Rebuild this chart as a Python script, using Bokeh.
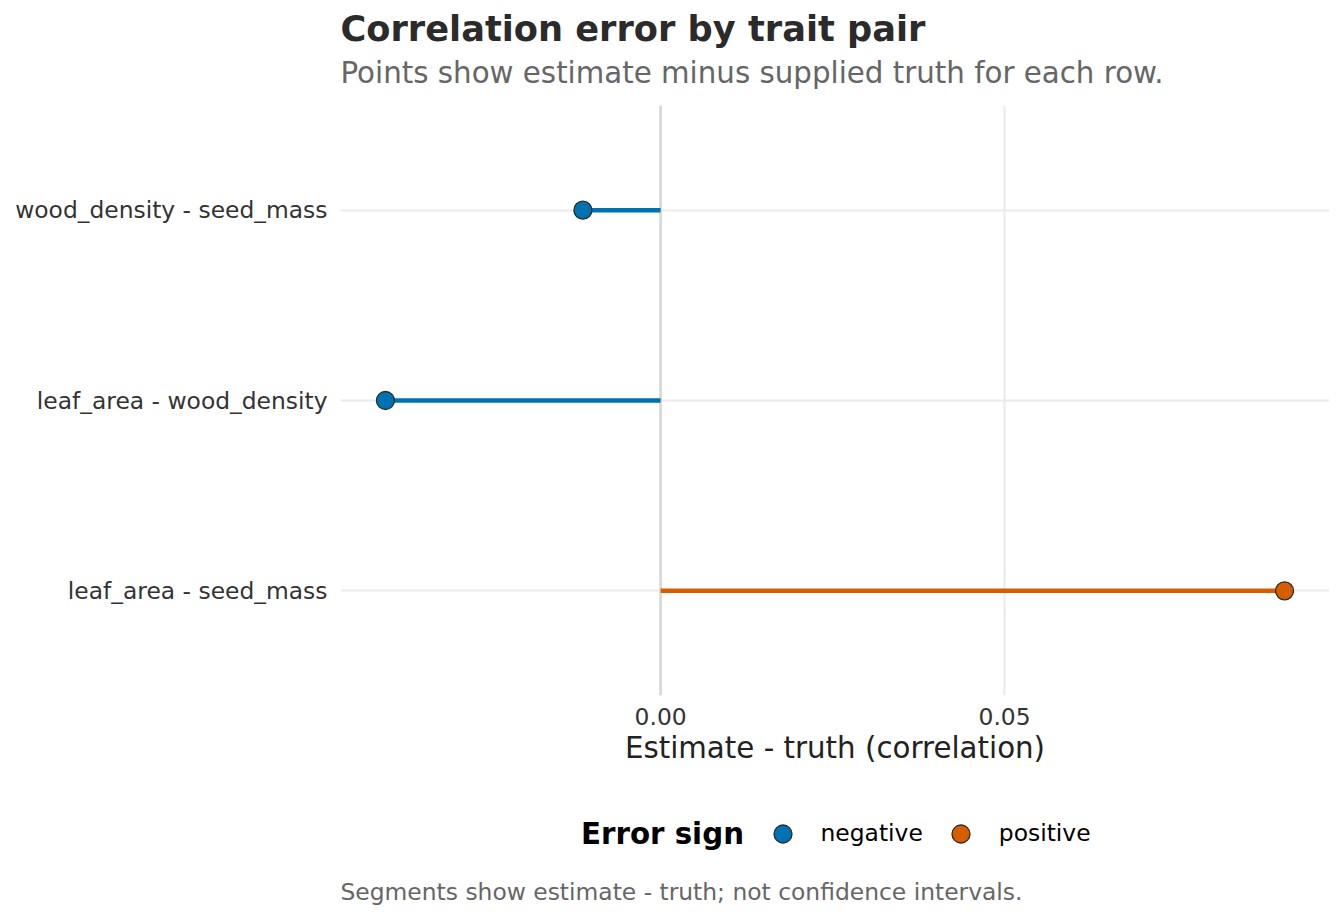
from bokeh.plotting import figure
from bokeh.layouts import column
from bokeh.models import (ColumnDataSource, FactorRange, Range1d, FixedTicker,
                          NumeralTickFormatter, Span, Label, Legend, LegendItem)
from bokeh.embed import file_html
from bokeh.resources import INLINE

# Trait pairs and the estimate-minus-truth error of their correlation
pairs = ["leaf_area - seed_mass", "leaf_area - wood_density", "wood_density - seed_mass"]
error = [0.0907, -0.0400, -0.0113]
x_ticks = [0.00, 0.05]
sign_labels = ["negative", "positive"]
sign_colors = {"negative": "#0072B2", "positive": "#D55E00"}

FONT = "DejaVu Sans"
SMALL = "23.4px"
MEDIUM = "29.3px"
POINT = dict(size=18, line_color="#2b2b2b", line_width=1.3)

signs = ["positive" if e > 0 else "negative" for e in error]
lo, hi = min(error), max(error)
pad = 0.05 * (hi - lo)


def text_strip(height):
    """A plain figure with no axes, used to hold titles, legend and caption."""
    f = figure(width=1344, height=height, x_range=Range1d(0, 1), y_range=Range1d(0, 1),
               output_backend="svg", toolbar_location=None,
               x_axis_location=None, y_axis_location=None,
               min_border=0, min_border_left=0, min_border_right=0,
               min_border_top=0, min_border_bottom=0)
    f.outline_line_color = None
    f.grid.visible = False
    f.background_fill_color = "white"
    f.border_fill_color = "white"
    return f


def add_text(f, x, y, text, size, color, style="normal"):
    f.add_layout(Label(x=x, y=y, x_units="screen", y_units="screen", text=text,
                       text_font=FONT, text_font_size=size, text_font_style=style,
                       text_color=color, text_align="left", text_baseline="middle"))


# ---- header ----
head = text_strip(105)
add_text(head, 0, 77, "Correlation error by trait pair", "35.2px", "#2b2b2b", "bold")
add_text(head, 0, 32.4, "Points show estimate minus supplied truth for each row.",
         MEDIUM, "#666666")

# ---- main lollipop panel ----
p = figure(
    width=1344, height=685,
    y_range=FactorRange(factors=pairs, range_padding=0.1 / 3),
    x_range=Range1d(lo - pad, hi + pad),
    output_backend="svg", toolbar_location=None,
    min_border_left=340, min_border_right=15,
    min_border_top=0, min_border_bottom=95,
)
p.outline_line_color = None
p.background_fill_color = "white"
p.border_fill_color = "white"

p.xgrid.ticker = FixedTicker(ticks=x_ticks)
p.xgrid.grid_line_color = "#ebebeb"
p.xgrid.grid_line_width = 2.2
p.ygrid.grid_line_color = "#ebebeb"
p.ygrid.grid_line_width = 2.2

# zero reference line
p.add_layout(Span(location=0, dimension="height", line_color="#d9d9d9", line_width=2.8,
                  level="underlay"))

p.xaxis.ticker = FixedTicker(ticks=x_ticks)
p.xaxis.formatter = NumeralTickFormatter(format="0.00")
p.xaxis.axis_label = "Estimate - truth (correlation)"
for ax in (p.xaxis[0], p.yaxis[0]):
    ax.axis_line_color = None
    ax.major_tick_line_color = None
    ax.minor_tick_line_color = None
    ax.major_tick_out = 0
    ax.major_tick_in = 0
    ax.major_label_text_font = FONT
    ax.major_label_text_font_size = SMALL
    ax.major_label_text_color = "#333333"
p.xaxis.major_label_standoff = 12
p.yaxis.major_label_standoff = 13
p.xaxis.axis_label_text_font = FONT
p.xaxis.axis_label_text_font_size = MEDIUM
p.xaxis.axis_label_text_font_style = "normal"
p.xaxis.axis_label_text_color = "#222222"
p.xaxis.axis_label_standoff = 3

# ---- legend strip and caption ----
foot = text_strip(131)
key_renderers = {}

# segment from zero to the error, point at the error
for s in sign_labels:
    idx = [i for i, g in enumerate(signs) if g == s]
    src = ColumnDataSource(dict(
        pair=[pairs[i] for i in idx],
        err=[error[i] for i in idx],
        zero=[0.0] * len(idx),
    ))
    p.segment(x0="zero", y0="pair", x1="err", y1="pair", source=src,
              line_color=sign_colors[s], line_width=4.5)
    p.scatter(x="err", y="pair", source=src, fill_color=sign_colors[s], **POINT)
    # hidden twin in the legend strip, only used to draw the legend key
    key_renderers[s] = foot.scatter(x="err", y="zero", source=src, visible=False,
                                    fill_color=sign_colors[s], **POINT)

legend = Legend(
    items=[LegendItem(label=s, renderers=[key_renderers[s]]) for s in sign_labels],
    orientation="horizontal",
    location=(419.5, 65.5),
    label_text_font=FONT, label_text_font_size=SMALL, label_text_color="black",
    glyph_width=45, glyph_height=45, label_standoff=16, spacing=15,
    padding=0, margin=0, border_line_color=None, background_fill_alpha=0,
    inactive_fill_alpha=0,
)
foot.add_layout(legend, "center")
add_text(foot, 240.5, 87.8, "Error sign", MEDIUM, "black", "bold")
add_text(foot, 0, 29.1, "Segments show estimate - truth; not confidence intervals.",
         SMALL, "#666666")

open("out.html", "w").write(file_html(column(head, p, foot, spacing=0), INLINE))
